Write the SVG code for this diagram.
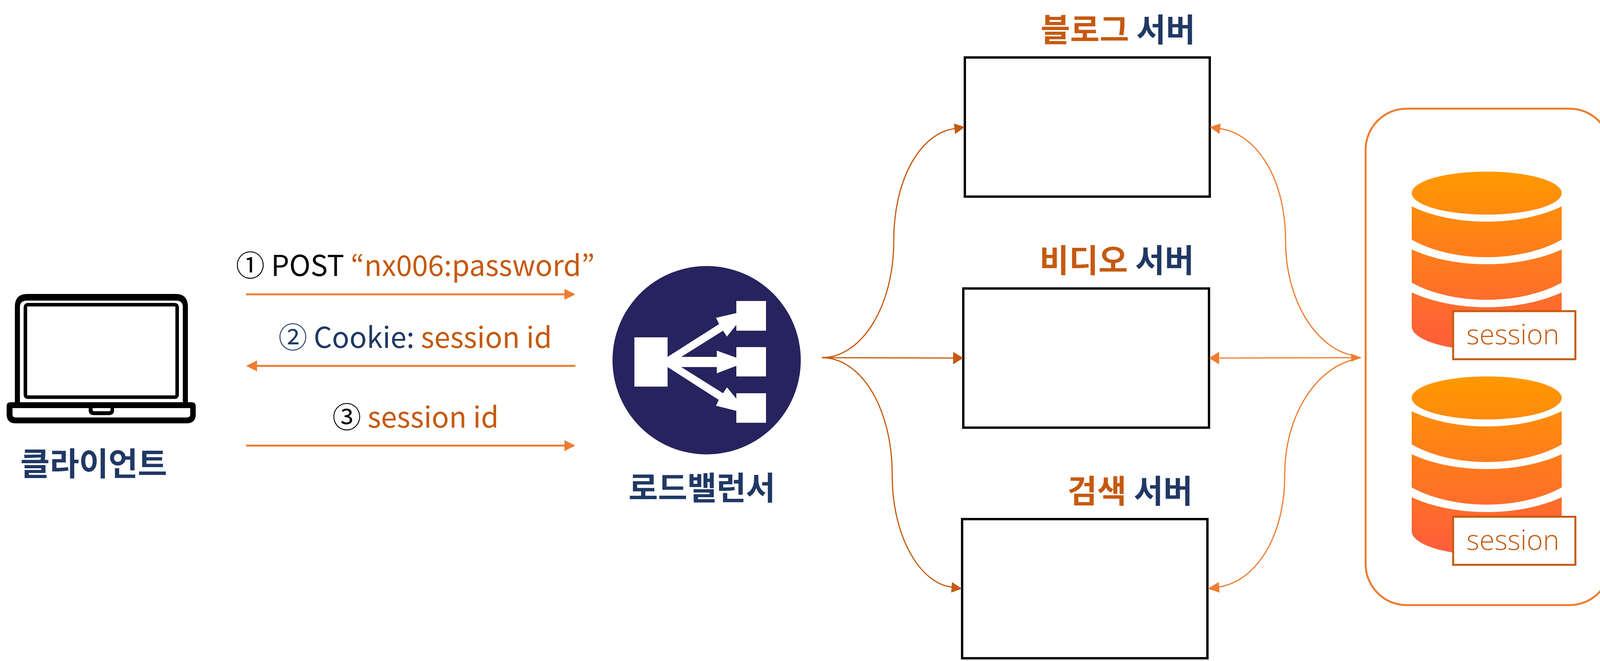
<svg xmlns="http://www.w3.org/2000/svg" xmlns:xlink="http://www.w3.org/1999/xlink" width="4129" height="1691" viewBox="0 0 4129 1691">
<style>
text{font-family:"Noto Sans CJK KR","Noto Sans",sans-serif}
.title{font-size:82px;font-weight:700;fill:#203864}
.o{fill:#c55a11}
.n{fill:#203864}
.k{fill:#000}
.lbl{font-size:73.5px;font-weight:400}
.srv{fill:#fff;stroke:#000;stroke-width:6}
.sess{fill:#fff;stroke:#c55a11;stroke-width:5}
.stxt{font-family:"Open Sans","Noto Sans",sans-serif;font-weight:300;font-size:71px;fill:#c55a11;text-anchor:middle}
.c1{fill:none;stroke:#c55a11;stroke-width:3}
.c2{fill:none;stroke:#ed7d31;stroke-width:3}
.h1{fill:#c55a11}
.h2{fill:#ed7d31}
.a{stroke:#ed7d31;stroke-width:5;fill:none}
.cyl{fill:url(#dbg)}
</style>
<defs>
<linearGradient id="dbg" gradientUnits="userSpaceOnUse" x1="0" y1="439" x2="0" y2="896">
<stop offset="0" stop-color="#ff9900"/><stop offset="1" stop-color="#ff5c3c"/>
</linearGradient>
</defs>
<rect width="4129" height="1691" fill="#fff"/>

<g id="client">
<path d="M38 1029V785Q38 752 70 752H450Q481 752 481 785V1029H468V785Q468 769 450 769H70Q51 769 51 785V1029Z" fill="#000"/>
<rect x="65" y="779.500" width="388.500" height="236.500" rx="6" fill="#fff" stroke="#000" stroke-width="9"/>
<path fill-rule="evenodd" d="M27 1029H491Q501 1029 501 1039V1060Q501 1083 478 1083H40Q17 1083 17 1060V1039Q17 1029 27 1029ZM32 1044V1060Q32 1068 40 1068H478Q487 1068 487 1060V1044H292V1050Q292 1062 278 1062H241Q227 1062 227 1050V1044ZM237 1044V1048Q237 1052 241 1052H279Q283 1052 283 1048V1044Z" fill="#000"/>
<text class="title n" x="52" y="1216" textLength="376">클라이언트</text>
</g>

<g id="load-balancer">
<circle cx="1809" cy="921.500" r="241" fill="#26235f"/>
<rect x="1624" y="863" width="85" height="126" fill="#fff"/>
<rect x="1885" y="770" width="76" height="76" fill="#fff"/>
<rect x="1885" y="888" width="76" height="75" fill="#fff"/>
<rect x="1885" y="1006" width="76" height="75.500" fill="#fff"/>
<polygon fill="#fff" points="1709,913 1841,829 1833,813 1885,801 1885,831 1861,861 1851,846 1744,913 1835,913 1835,897 1885,915 1885,936 1835,955 1835,939 1744,939 1851,1006 1861,991 1885,1020 1885,1051 1833,1038 1840,1023 1709,939"/>
<text class="title n" x="1609" y="1278" textLength="376">로드밸런서</text>
</g>

<g id="server-blog">
<rect class="srv" x="2470" y="147" width="627" height="356"/>
<text class="title" x="2664" y="106"><tspan class="o">블로그</tspan><tspan class="n"> 서버</tspan></text>
</g>
<g id="server-video">
<rect class="srv" x="2466" y="738" width="629" height="356"/>
<text class="title" x="2661" y="696"><tspan class="o">비디오</tspan><tspan class="n"> 서버</tspan></text>
</g>
<g id="server-search">
<rect class="srv" x="2463" y="1328" width="628" height="356"/>
<text class="title" x="2733" y="1286"><tspan class="o">검색</tspan><tspan class="n"> 서버</tspan></text>
</g>

<g id="session-store">
<rect x="3496" y="278" width="627" height="1270" rx="105" ry="105" fill="#fff" stroke="#ed7d31" stroke-width="5"/>
<g id="db-1">
<g id="db-shape">
<ellipse class="cyl" cx="3806" cy="494" rx="192" ry="55"/>
<path class="cyl" d="M3614 528C3670 555 3740 567 3806 567S3942 555 3998 528V613C3942 645 3870 658 3806 658S3670 645 3614 613Z"/>
<path class="cyl" d="M3614 638C3670 664 3740 676 3806 676S3942 664 3998 638V723C3942 754 3870 767 3806 767S3670 754 3614 723Z"/>
<path class="cyl" d="M3614 748C3670 774 3740 786 3806 786S3942 774 3998 748V835A192 61 0 0 1 3614 835Z"/>
</g>
<rect class="sess" x="3720" y="796" width="313" height="123"/>
<text class="stxt" x="3873" y="881">session</text>
</g>
<g id="db-2">
<use xlink:href="#db-shape" href="#db-shape" transform="translate(0 524)"/>
<rect class="sess" x="3720" y="1322" width="313" height="123"/>
<text class="stxt" x="3873" y="1407">session</text>
</g>
</g>

<g id="connectors">
<line class="a" x1="630" y1="753" x2="1447" y2="753"/><polygon class="h2" points="1473,753 1445,739 1445,767"/>
<line class="a" x1="1473" y1="936" x2="656" y2="936"/><polygon class="h2" points="630,936 658,922 658,950"/>
<line class="a" x1="630" y1="1140" x2="1447" y2="1140"/><polygon class="h2" points="1473,1140 1445,1126 1445,1154"/>

<path class="c1" d="M2104 915C2205 915 2288 785 2288 616C2288 450 2362 338 2445 329"/><polygon class="h1" points="2470,325 2442,316 2445,343"/>
<line class="c1" x1="2104" y1="915" x2="2440" y2="916"/><polygon class="h1" points="2466,916 2440,900 2440,932"/>
<path class="c1" d="M2104 915C2205 915 2284 1045 2284 1214C2284 1380 2360 1495 2438 1502"/><polygon class="h1" points="2463,1506 2437,1489 2435,1516"/>

<path class="c2" d="M3462 909C3370 890 3291 770 3291 616C3291 450 3212 340 3122 329"/><polygon class="h2" points="3097,325 3125,316 3122,343"/>
<line class="c2" x1="3122" y1="916" x2="3462" y2="915"/><polygon class="h2" points="3095,916 3121,900 3121,932"/>
<path class="c2" d="M3462 921C3370 945 3289 1060 3289 1214C3289 1380 3210 1490 3118 1502"/><polygon class="h2" points="3092,1506 3120,1489 3122,1516"/>
<polygon class="h2" points="3486,915 3459,905 3459,925"/>
</g>

<g id="labels">
<text class="lbl" x="604" y="706"><tspan class="k">① POST </tspan><tspan class="o">“nx006:password”</tspan></text>
<text class="lbl" x="713" y="890"><tspan class="n">② Cookie: </tspan><tspan class="o">session id</tspan></text>
<text class="lbl" x="851" y="1094"><tspan class="k">③ </tspan><tspan class="o">session id</tspan></text>
</g>
</svg>
